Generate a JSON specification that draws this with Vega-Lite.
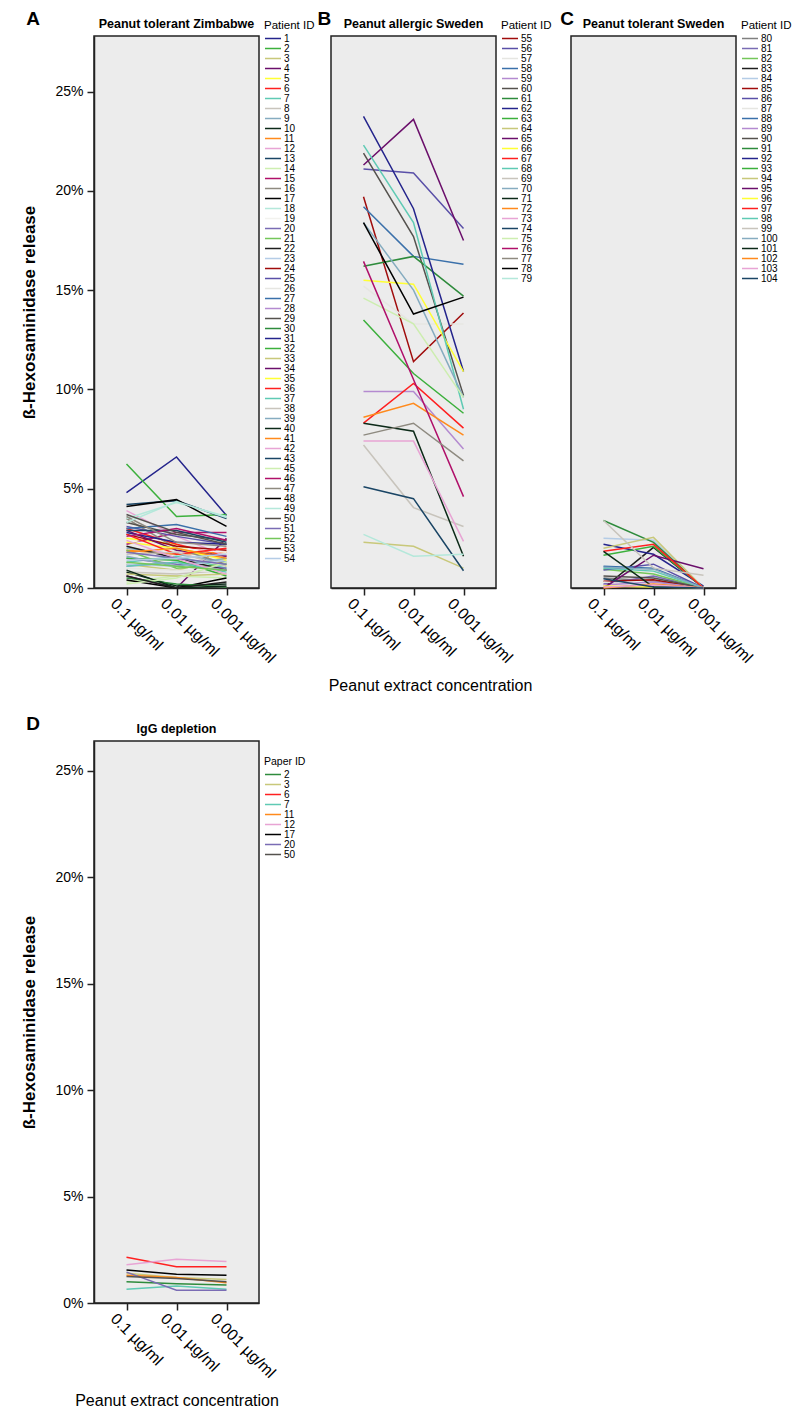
{
  "$schema": "https://vega.github.io/schema/vega-lite/v6.json",
  "background": "white",
  "padding": {"left": 20, "top": 9, "right": 0, "bottom": 0},
  "config": {
    "font": "Liberation Sans",
    "view": {"fill": "#ececec", "stroke": "#222222", "strokeWidth": 1.5},
    "axis": {"labelFontSize": 14, "labelColor": "#000", "tickColor": "#222", "domainColor": "#222", "domainWidth": 1.5, "tickWidth": 1.5, "tickSize": 7, "grid": false, "titleFontSize": 17, "titleColor": "#000", "labelFont": "Liberation Sans", "titleFont": "Liberation Sans"},
    "legend": {"titleFontSize": 11.5, "titleFontWeight": "normal", "titleColor": "#000", "labelColor": "#000", "labelFontSize": 10, "symbolType": "stroke", "symbolSize": 256, "symbolStrokeWidth": 1.5, "rowPadding": 0, "clipHeight": 10, "symbolLimit": 100, "labelOffset": 2, "titlePadding": 2},
    "line": {"strokeWidth": 1.5},
    "title": {"color": "#000", "font": "Liberation Sans"}
  },
  "datasets": {
    "pts": [
      {"p":"A","id":"1","c":"0.1 µg/ml","v":4.8},{"p":"A","id":"1","c":"0.01 µg/ml","v":6.6},{"p":"A","id":"1","c":"0.001 µg/ml","v":3.65},
      {"p":"A","id":"2","c":"0.1 µg/ml","v":6.25},{"p":"A","id":"2","c":"0.01 µg/ml","v":3.6},{"p":"A","id":"2","c":"0.001 µg/ml","v":3.7},
      {"p":"A","id":"3","c":"0.1 µg/ml","v":1.2},{"p":"A","id":"3","c":"0.01 µg/ml","v":0.9},{"p":"A","id":"3","c":"0.001 µg/ml","v":1.5},
      {"p":"A","id":"4","c":"0.1 µg/ml","v":0.6},{"p":"A","id":"4","c":"0.01 µg/ml","v":0.0},{"p":"A","id":"4","c":"0.001 µg/ml","v":2.5},
      {"p":"A","id":"5","c":"0.1 µg/ml","v":2.5},{"p":"A","id":"5","c":"0.01 µg/ml","v":2.2},{"p":"A","id":"5","c":"0.001 µg/ml","v":1.1},
      {"p":"A","id":"6","c":"0.1 µg/ml","v":3.0},{"p":"A","id":"6","c":"0.01 µg/ml","v":2.2},{"p":"A","id":"6","c":"0.001 µg/ml","v":1.6},
      {"p":"A","id":"7","c":"0.1 µg/ml","v":1.3},{"p":"A","id":"7","c":"0.01 µg/ml","v":1.6},{"p":"A","id":"7","c":"0.001 µg/ml","v":1.0},
      {"p":"A","id":"8","c":"0.1 µg/ml","v":0.8},{"p":"A","id":"8","c":"0.01 µg/ml","v":0.7},{"p":"A","id":"8","c":"0.001 µg/ml","v":0.9},
      {"p":"A","id":"9","c":"0.1 µg/ml","v":2.0},{"p":"A","id":"9","c":"0.01 µg/ml","v":1.7},{"p":"A","id":"9","c":"0.001 µg/ml","v":1.3},
      {"p":"A","id":"10","c":"0.1 µg/ml","v":0.8},{"p":"A","id":"10","c":"0.01 µg/ml","v":0.1},{"p":"A","id":"10","c":"0.001 µg/ml","v":0.2},
      {"p":"A","id":"11","c":"0.1 µg/ml","v":1.9},{"p":"A","id":"11","c":"0.01 µg/ml","v":1.7},{"p":"A","id":"11","c":"0.001 µg/ml","v":1.8},
      {"p":"A","id":"12","c":"0.1 µg/ml","v":3.9},{"p":"A","id":"12","c":"0.01 µg/ml","v":2.6},{"p":"A","id":"12","c":"0.001 µg/ml","v":1.6},
      {"p":"A","id":"13","c":"0.1 µg/ml","v":4.2},{"p":"A","id":"13","c":"0.01 µg/ml","v":4.4},{"p":"A","id":"13","c":"0.001 µg/ml","v":3.5},
      {"p":"A","id":"14","c":"0.1 µg/ml","v":0.3},{"p":"A","id":"14","c":"0.01 µg/ml","v":0.6},{"p":"A","id":"14","c":"0.001 µg/ml","v":0.5},
      {"p":"A","id":"15","c":"0.1 µg/ml","v":2.2},{"p":"A","id":"15","c":"0.01 µg/ml","v":2.8},{"p":"A","id":"15","c":"0.001 µg/ml","v":2.8},
      {"p":"A","id":"16","c":"0.1 µg/ml","v":3.5},{"p":"A","id":"16","c":"0.01 µg/ml","v":2.0},{"p":"A","id":"16","c":"0.001 µg/ml","v":1.2},
      {"p":"A","id":"17","c":"0.1 µg/ml","v":0.4},{"p":"A","id":"17","c":"0.01 µg/ml","v":0.0},{"p":"A","id":"17","c":"0.001 µg/ml","v":0.5},
      {"p":"A","id":"18","c":"0.1 µg/ml","v":3.5},{"p":"A","id":"18","c":"0.01 µg/ml","v":4.3},{"p":"A","id":"18","c":"0.001 µg/ml","v":3.6},
      {"p":"A","id":"19","c":"0.1 µg/ml","v":2.4},{"p":"A","id":"19","c":"0.01 µg/ml","v":2.0},{"p":"A","id":"19","c":"0.001 µg/ml","v":1.8},
      {"p":"A","id":"20","c":"0.1 µg/ml","v":1.5},{"p":"A","id":"20","c":"0.01 µg/ml","v":1.2},{"p":"A","id":"20","c":"0.001 µg/ml","v":1.0},
      {"p":"A","id":"21","c":"0.1 µg/ml","v":1.9},{"p":"A","id":"21","c":"0.01 µg/ml","v":1.0},{"p":"A","id":"21","c":"0.001 µg/ml","v":1.2},
      {"p":"A","id":"22","c":"0.1 µg/ml","v":2.1},{"p":"A","id":"22","c":"0.01 µg/ml","v":1.5},{"p":"A","id":"22","c":"0.001 µg/ml","v":0.9},
      {"p":"A","id":"23","c":"0.1 µg/ml","v":1.2},{"p":"A","id":"23","c":"0.01 µg/ml","v":1.1},{"p":"A","id":"23","c":"0.001 µg/ml","v":1.4},
      {"p":"A","id":"24","c":"0.1 µg/ml","v":2.7},{"p":"A","id":"24","c":"0.01 µg/ml","v":2.1},{"p":"A","id":"24","c":"0.001 µg/ml","v":1.9},
      {"p":"A","id":"25","c":"0.1 µg/ml","v":3.1},{"p":"A","id":"25","c":"0.01 µg/ml","v":2.6},{"p":"A","id":"25","c":"0.001 µg/ml","v":2.2},
      {"p":"A","id":"26","c":"0.1 µg/ml","v":1.0},{"p":"A","id":"26","c":"0.01 µg/ml","v":0.9},{"p":"A","id":"26","c":"0.001 µg/ml","v":0.8},
      {"p":"A","id":"27","c":"0.1 µg/ml","v":3.0},{"p":"A","id":"27","c":"0.01 µg/ml","v":3.2},{"p":"A","id":"27","c":"0.001 µg/ml","v":2.6},
      {"p":"A","id":"28","c":"0.1 µg/ml","v":1.1},{"p":"A","id":"28","c":"0.01 µg/ml","v":1.3},{"p":"A","id":"28","c":"0.001 µg/ml","v":0.9},
      {"p":"A","id":"29","c":"0.1 µg/ml","v":3.3},{"p":"A","id":"29","c":"0.01 µg/ml","v":2.7},{"p":"A","id":"29","c":"0.001 µg/ml","v":2.4},
      {"p":"A","id":"30","c":"0.1 µg/ml","v":0.5},{"p":"A","id":"30","c":"0.01 µg/ml","v":0.2},{"p":"A","id":"30","c":"0.001 µg/ml","v":0.05},
      {"p":"A","id":"31","c":"0.1 µg/ml","v":2.8},{"p":"A","id":"31","c":"0.01 µg/ml","v":2.3},{"p":"A","id":"31","c":"0.001 µg/ml","v":2.2},
      {"p":"A","id":"32","c":"0.1 µg/ml","v":1.5},{"p":"A","id":"32","c":"0.01 µg/ml","v":1.4},{"p":"A","id":"32","c":"0.001 µg/ml","v":0.6},
      {"p":"A","id":"33","c":"0.1 µg/ml","v":0.7},{"p":"A","id":"33","c":"0.01 µg/ml","v":0.6},{"p":"A","id":"33","c":"0.001 µg/ml","v":0.7},
      {"p":"A","id":"34","c":"0.1 µg/ml","v":2.9},{"p":"A","id":"34","c":"0.01 µg/ml","v":1.9},{"p":"A","id":"34","c":"0.001 µg/ml","v":1.6},
      {"p":"A","id":"35","c":"0.1 µg/ml","v":2.3},{"p":"A","id":"35","c":"0.01 µg/ml","v":2.0},{"p":"A","id":"35","c":"0.001 µg/ml","v":1.4},
      {"p":"A","id":"36","c":"0.1 µg/ml","v":2.7},{"p":"A","id":"36","c":"0.01 µg/ml","v":1.7},{"p":"A","id":"36","c":"0.001 µg/ml","v":2.0},
      {"p":"A","id":"37","c":"0.1 µg/ml","v":1.1},{"p":"A","id":"37","c":"0.01 µg/ml","v":1.3},{"p":"A","id":"37","c":"0.001 µg/ml","v":0.8},
      {"p":"A","id":"38","c":"0.1 µg/ml","v":1.7},{"p":"A","id":"38","c":"0.01 µg/ml","v":1.8},{"p":"A","id":"38","c":"0.001 µg/ml","v":1.1},
      {"p":"A","id":"39","c":"0.1 µg/ml","v":1.6},{"p":"A","id":"39","c":"0.01 µg/ml","v":1.1},{"p":"A","id":"39","c":"0.001 µg/ml","v":1.5},
      {"p":"A","id":"40","c":"0.1 µg/ml","v":0.9},{"p":"A","id":"40","c":"0.01 µg/ml","v":0.0},{"p":"A","id":"40","c":"0.001 µg/ml","v":0.1},
      {"p":"A","id":"41","c":"0.1 µg/ml","v":1.8},{"p":"A","id":"41","c":"0.01 µg/ml","v":2.0},{"p":"A","id":"41","c":"0.001 µg/ml","v":1.5},
      {"p":"A","id":"42","c":"0.1 µg/ml","v":2.4},{"p":"A","id":"42","c":"0.01 µg/ml","v":1.5},{"p":"A","id":"42","c":"0.001 µg/ml","v":0.7},
      {"p":"A","id":"43","c":"0.1 µg/ml","v":2.9},{"p":"A","id":"43","c":"0.01 µg/ml","v":2.9},{"p":"A","id":"43","c":"0.001 µg/ml","v":2.3},
      {"p":"A","id":"45","c":"0.1 µg/ml","v":0.2},{"p":"A","id":"45","c":"0.01 µg/ml","v":0.5},{"p":"A","id":"45","c":"0.001 µg/ml","v":1.3},
      {"p":"A","id":"46","c":"0.1 µg/ml","v":2.6},{"p":"A","id":"46","c":"0.01 µg/ml","v":3.0},{"p":"A","id":"46","c":"0.001 µg/ml","v":2.4},
      {"p":"A","id":"47","c":"0.1 µg/ml","v":3.6},{"p":"A","id":"47","c":"0.01 µg/ml","v":2.3},{"p":"A","id":"47","c":"0.001 µg/ml","v":2.1},
      {"p":"A","id":"48","c":"0.1 µg/ml","v":4.1},{"p":"A","id":"48","c":"0.01 µg/ml","v":4.45},{"p":"A","id":"48","c":"0.001 µg/ml","v":3.1},
      {"p":"A","id":"49","c":"0.1 µg/ml","v":3.3},{"p":"A","id":"49","c":"0.01 µg/ml","v":4.35},{"p":"A","id":"49","c":"0.001 µg/ml","v":3.55},
      {"p":"A","id":"50","c":"0.1 µg/ml","v":3.7},{"p":"A","id":"50","c":"0.01 µg/ml","v":2.8},{"p":"A","id":"50","c":"0.001 µg/ml","v":2.2},
      {"p":"A","id":"51","c":"0.1 µg/ml","v":1.8},{"p":"A","id":"51","c":"0.01 µg/ml","v":1.5},{"p":"A","id":"51","c":"0.001 µg/ml","v":1.2},
      {"p":"A","id":"52","c":"0.1 µg/ml","v":1.3},{"p":"A","id":"52","c":"0.01 µg/ml","v":1.1},{"p":"A","id":"52","c":"0.001 µg/ml","v":0.9},
      {"p":"A","id":"53","c":"0.1 µg/ml","v":0.6},{"p":"A","id":"53","c":"0.01 µg/ml","v":0.0},{"p":"A","id":"53","c":"0.001 µg/ml","v":0.3},
      {"p":"A","id":"54","c":"0.1 µg/ml","v":1.4},{"p":"A","id":"54","c":"0.01 µg/ml","v":1.5},{"p":"A","id":"54","c":"0.001 µg/ml","v":1.7},

      {"p":"B","id":"55","c":"0.1 µg/ml","v":19.7},{"p":"B","id":"55","c":"0.01 µg/ml","v":11.4},{"p":"B","id":"55","c":"0.001 µg/ml","v":13.85},
      {"p":"B","id":"56","c":"0.1 µg/ml","v":21.1},{"p":"B","id":"56","c":"0.01 µg/ml","v":20.9},{"p":"B","id":"56","c":"0.001 µg/ml","v":18.1},
      {"p":"B","id":"57","c":"0.1 µg/ml","v":15.2},{"p":"B","id":"57","c":"0.01 µg/ml","v":13.3},{"p":"B","id":"57","c":"0.001 µg/ml","v":13.3},
      {"p":"B","id":"58","c":"0.1 µg/ml","v":19.2},{"p":"B","id":"58","c":"0.01 µg/ml","v":16.7},{"p":"B","id":"58","c":"0.001 µg/ml","v":16.3},
      {"p":"B","id":"59","c":"0.1 µg/ml","v":9.9},{"p":"B","id":"59","c":"0.01 µg/ml","v":9.9},{"p":"B","id":"59","c":"0.001 µg/ml","v":7.0},
      {"p":"B","id":"60","c":"0.1 µg/ml","v":21.9},{"p":"B","id":"60","c":"0.01 µg/ml","v":17.7},{"p":"B","id":"60","c":"0.001 µg/ml","v":9.7},
      {"p":"B","id":"61","c":"0.1 µg/ml","v":16.2},{"p":"B","id":"61","c":"0.01 µg/ml","v":16.7},{"p":"B","id":"61","c":"0.001 µg/ml","v":14.7},
      {"p":"B","id":"62","c":"0.1 µg/ml","v":23.75},{"p":"B","id":"62","c":"0.01 µg/ml","v":19.1},{"p":"B","id":"62","c":"0.001 µg/ml","v":10.9},
      {"p":"B","id":"63","c":"0.1 µg/ml","v":13.5},{"p":"B","id":"63","c":"0.01 µg/ml","v":10.8},{"p":"B","id":"63","c":"0.001 µg/ml","v":8.8},
      {"p":"B","id":"64","c":"0.1 µg/ml","v":2.3},{"p":"B","id":"64","c":"0.01 µg/ml","v":2.1},{"p":"B","id":"64","c":"0.001 µg/ml","v":1.0},
      {"p":"B","id":"65","c":"0.1 µg/ml","v":21.3},{"p":"B","id":"65","c":"0.01 µg/ml","v":23.6},{"p":"B","id":"65","c":"0.001 µg/ml","v":17.5},
      {"p":"B","id":"66","c":"0.1 µg/ml","v":15.5},{"p":"B","id":"66","c":"0.01 µg/ml","v":15.3},{"p":"B","id":"66","c":"0.001 µg/ml","v":10.9},
      {"p":"B","id":"67","c":"0.1 µg/ml","v":8.3},{"p":"B","id":"67","c":"0.01 µg/ml","v":10.3},{"p":"B","id":"67","c":"0.001 µg/ml","v":8.05},
      {"p":"B","id":"68","c":"0.1 µg/ml","v":22.3},{"p":"B","id":"68","c":"0.01 µg/ml","v":18.4},{"p":"B","id":"68","c":"0.001 µg/ml","v":9.0},
      {"p":"B","id":"69","c":"0.1 µg/ml","v":7.2},{"p":"B","id":"69","c":"0.01 µg/ml","v":4.05},{"p":"B","id":"69","c":"0.001 µg/ml","v":3.1},
      {"p":"B","id":"70","c":"0.1 µg/ml","v":18.4},{"p":"B","id":"70","c":"0.01 µg/ml","v":15.0},{"p":"B","id":"70","c":"0.001 µg/ml","v":9.6},
      {"p":"B","id":"71","c":"0.1 µg/ml","v":8.3},{"p":"B","id":"71","c":"0.01 µg/ml","v":7.9},{"p":"B","id":"71","c":"0.001 µg/ml","v":1.6},
      {"p":"B","id":"72","c":"0.1 µg/ml","v":8.6},{"p":"B","id":"72","c":"0.01 µg/ml","v":9.3},{"p":"B","id":"72","c":"0.001 µg/ml","v":7.7},
      {"p":"B","id":"73","c":"0.1 µg/ml","v":7.4},{"p":"B","id":"73","c":"0.01 µg/ml","v":7.4},{"p":"B","id":"73","c":"0.001 µg/ml","v":2.35},
      {"p":"B","id":"74","c":"0.1 µg/ml","v":5.1},{"p":"B","id":"74","c":"0.01 µg/ml","v":4.5},{"p":"B","id":"74","c":"0.001 µg/ml","v":0.87},
      {"p":"B","id":"75","c":"0.1 µg/ml","v":14.6},{"p":"B","id":"75","c":"0.01 µg/ml","v":13.3},{"p":"B","id":"75","c":"0.001 µg/ml","v":9.6},
      {"p":"B","id":"76","c":"0.1 µg/ml","v":16.45},{"p":"B","id":"76","c":"0.01 µg/ml","v":10.5},{"p":"B","id":"76","c":"0.001 µg/ml","v":4.6},
      {"p":"B","id":"77","c":"0.1 µg/ml","v":7.7},{"p":"B","id":"77","c":"0.01 µg/ml","v":8.3},{"p":"B","id":"77","c":"0.001 µg/ml","v":6.4},
      {"p":"B","id":"78","c":"0.1 µg/ml","v":18.4},{"p":"B","id":"78","c":"0.01 µg/ml","v":13.8},{"p":"B","id":"78","c":"0.001 µg/ml","v":14.65},
      {"p":"B","id":"79","c":"0.1 µg/ml","v":2.7},{"p":"B","id":"79","c":"0.01 µg/ml","v":1.6},{"p":"B","id":"79","c":"0.001 µg/ml","v":1.7},

      {"p":"C","id":"80","c":"0.1 µg/ml","v":0.5},{"p":"C","id":"80","c":"0.01 µg/ml","v":0.35},{"p":"C","id":"80","c":"0.001 µg/ml","v":0},
      {"p":"C","id":"81","c":"0.1 µg/ml","v":0.2},{"p":"C","id":"81","c":"0.01 µg/ml","v":0.6},{"p":"C","id":"81","c":"0.001 µg/ml","v":0},
      {"p":"C","id":"82","c":"0.1 µg/ml","v":0.95},{"p":"C","id":"82","c":"0.01 µg/ml","v":0.7},{"p":"C","id":"82","c":"0.001 µg/ml","v":0},
      {"p":"C","id":"83","c":"0.1 µg/ml","v":0.0},{"p":"C","id":"83","c":"0.01 µg/ml","v":2.05},{"p":"C","id":"83","c":"0.001 µg/ml","v":0},
      {"p":"C","id":"84","c":"0.1 µg/ml","v":2.5},{"p":"C","id":"84","c":"0.01 µg/ml","v":2.4},{"p":"C","id":"84","c":"0.001 µg/ml","v":0},
      {"p":"C","id":"85","c":"0.1 µg/ml","v":0.34},{"p":"C","id":"85","c":"0.01 µg/ml","v":0.42},{"p":"C","id":"85","c":"0.001 µg/ml","v":0},
      {"p":"C","id":"86","c":"0.1 µg/ml","v":0.9},{"p":"C","id":"86","c":"0.01 µg/ml","v":1.2},{"p":"C","id":"86","c":"0.001 µg/ml","v":0},
      {"p":"C","id":"87","c":"0.1 µg/ml","v":0.3},{"p":"C","id":"87","c":"0.01 µg/ml","v":0.1},{"p":"C","id":"87","c":"0.001 µg/ml","v":0},
      {"p":"C","id":"88","c":"0.1 µg/ml","v":1.1},{"p":"C","id":"88","c":"0.01 µg/ml","v":1.0},{"p":"C","id":"88","c":"0.001 µg/ml","v":0},
      {"p":"C","id":"89","c":"0.1 µg/ml","v":0.15},{"p":"C","id":"89","c":"0.01 µg/ml","v":0.3},{"p":"C","id":"89","c":"0.001 µg/ml","v":0},
      {"p":"C","id":"90","c":"0.1 µg/ml","v":0.6},{"p":"C","id":"90","c":"0.01 µg/ml","v":0.5},{"p":"C","id":"90","c":"0.001 µg/ml","v":0},
      {"p":"C","id":"91","c":"0.1 µg/ml","v":3.4},{"p":"C","id":"91","c":"0.01 µg/ml","v":2.3},{"p":"C","id":"91","c":"0.001 µg/ml","v":0},
      {"p":"C","id":"92","c":"0.1 µg/ml","v":2.2},{"p":"C","id":"92","c":"0.01 µg/ml","v":1.7},{"p":"C","id":"92","c":"0.001 µg/ml","v":0.1},
      {"p":"C","id":"93","c":"0.1 µg/ml","v":1.65},{"p":"C","id":"93","c":"0.01 µg/ml","v":2.1},{"p":"C","id":"93","c":"0.001 µg/ml","v":0},
      {"p":"C","id":"94","c":"0.1 µg/ml","v":2.0},{"p":"C","id":"94","c":"0.01 µg/ml","v":2.55},{"p":"C","id":"94","c":"0.001 µg/ml","v":0},
      {"p":"C","id":"95","c":"0.1 µg/ml","v":0.0},{"p":"C","id":"95","c":"0.01 µg/ml","v":1.65},{"p":"C","id":"95","c":"0.001 µg/ml","v":0.97},
      {"p":"C","id":"96","c":"0.1 µg/ml","v":0.1},{"p":"C","id":"96","c":"0.01 µg/ml","v":0.05},{"p":"C","id":"96","c":"0.001 µg/ml","v":0},
      {"p":"C","id":"97","c":"0.1 µg/ml","v":1.85},{"p":"C","id":"97","c":"0.01 µg/ml","v":2.2},{"p":"C","id":"97","c":"0.001 µg/ml","v":0},
      {"p":"C","id":"98","c":"0.1 µg/ml","v":1.0},{"p":"C","id":"98","c":"0.01 µg/ml","v":0.85},{"p":"C","id":"98","c":"0.001 µg/ml","v":0},
      {"p":"C","id":"99","c":"0.1 µg/ml","v":3.4},{"p":"C","id":"99","c":"0.01 µg/ml","v":1.0},{"p":"C","id":"99","c":"0.001 µg/ml","v":0.64},
      {"p":"C","id":"100","c":"0.1 µg/ml","v":1.05},{"p":"C","id":"100","c":"0.01 µg/ml","v":0.95},{"p":"C","id":"100","c":"0.001 µg/ml","v":0},
      {"p":"C","id":"101","c":"0.1 µg/ml","v":1.85},{"p":"C","id":"101","c":"0.01 µg/ml","v":0.05},{"p":"C","id":"101","c":"0.001 µg/ml","v":0},
      {"p":"C","id":"102","c":"0.1 µg/ml","v":0.0},{"p":"C","id":"102","c":"0.01 µg/ml","v":0.2},{"p":"C","id":"102","c":"0.001 µg/ml","v":0},
      {"p":"C","id":"103","c":"0.1 µg/ml","v":0.05},{"p":"C","id":"103","c":"0.01 µg/ml","v":0.15},{"p":"C","id":"103","c":"0.001 µg/ml","v":0},
      {"p":"C","id":"104","c":"0.1 µg/ml","v":0.47},{"p":"C","id":"104","c":"0.01 µg/ml","v":0.05},{"p":"C","id":"104","c":"0.001 µg/ml","v":0},

      {"p":"D","id":"2","c":"0.1 µg/ml","v":1.0},{"p":"D","id":"2","c":"0.01 µg/ml","v":0.9},{"p":"D","id":"2","c":"0.001 µg/ml","v":0.85},
      {"p":"D","id":"3","c":"0.1 µg/ml","v":1.4},{"p":"D","id":"3","c":"0.01 µg/ml","v":1.2},{"p":"D","id":"3","c":"0.001 µg/ml","v":1.1},
      {"p":"D","id":"6","c":"0.1 µg/ml","v":2.15},{"p":"D","id":"6","c":"0.01 µg/ml","v":1.7},{"p":"D","id":"6","c":"0.001 µg/ml","v":1.7},
      {"p":"D","id":"7","c":"0.1 µg/ml","v":0.65},{"p":"D","id":"7","c":"0.01 µg/ml","v":0.8},{"p":"D","id":"7","c":"0.001 µg/ml","v":0.65},
      {"p":"D","id":"11","c":"0.1 µg/ml","v":1.3},{"p":"D","id":"11","c":"0.01 µg/ml","v":1.2},{"p":"D","id":"11","c":"0.001 µg/ml","v":0.95},
      {"p":"D","id":"12","c":"0.1 µg/ml","v":1.8},{"p":"D","id":"12","c":"0.01 µg/ml","v":2.05},{"p":"D","id":"12","c":"0.001 µg/ml","v":1.95},
      {"p":"D","id":"17","c":"0.1 µg/ml","v":1.55},{"p":"D","id":"17","c":"0.01 µg/ml","v":1.35},{"p":"D","id":"17","c":"0.001 µg/ml","v":1.3},
      {"p":"D","id":"20","c":"0.1 µg/ml","v":1.45},{"p":"D","id":"20","c":"0.01 µg/ml","v":0.6},{"p":"D","id":"20","c":"0.001 µg/ml","v":0.6},
      {"p":"D","id":"50","c":"0.1 µg/ml","v":1.25},{"p":"D","id":"50","c":"0.01 µg/ml","v":1.15},{"p":"D","id":"50","c":"0.001 µg/ml","v":1.0}
    ]
  },
  "vconcat": [
    {
      "hconcat": [
        {
          "title": {"text": "A", "anchor": "start", "frame": "bounds", "fontSize": 19, "fontWeight": "bold", "dx": 6, "dy": 12, "offset": 0},
          "vconcat": [
            {
              "data": {"name": "pts"},
              "transform": [{"filter": "datum.p === 'A'"}],
              "title": {"text": "Peanut tolerant Zimbabwe", "fontSize": 12.5, "fontWeight": "bold", "offset": 6},
              "width": 165, "height": 552,
              "mark": {"type": "line", "strokeWidth": 1.5},
              "encoding": {
                "x": {"field": "c", "type": "ordinal", "sort": ["0.1 µg/ml", "0.01 µg/ml", "0.001 µg/ml"], "scale": {"type": "point", "padding": 0.65}, "axis": {"title": null, "labelAngle": 45, "labelAlign": "left", "labelBaseline": "top", "labelPadding": 0, "labelOffset": -8, "labelFontSize": 16}},
                "y": {"field": "v", "type": "quantitative", "scale": {"domain": [0, 27.8], "nice": false}, "axis": {"values": [0, 5, 10, 15, 20, 25], "labelExpr": "datum.value + '%'", "labelPadding": 4, "title": "ß-Hexosaminidase release", "titleFontWeight": "bold", "titlePadding": 16}},
                "color": {"field": "id", "type": "nominal",
                  "scale": {"domain": ["1","2","3","4","5","6","7","8","9","10","11","12","13","14","15","16","17","18","19","20","21","22","23","24","25","26","27","28","29","30","31","32","33","34","35","36","37","38","39","40","41","42","43","45","46","47","48","49","50","51","52","53","54"],
                    "range": ["#24248c","#3cb03c","#c8c87a","#6b0f6b","#ffff33","#ff2020","#5fcab4","#c8c4bc","#86acc0","#0c2a18","#ff8a1c","#e8a4d4","#1a4565","#cdeeb0","#b0106a","#8e8a80","#000000","#b4e8da","#f2f2ee","#7a6cb4","#74c65a","#1e1e1e","#b4cce6","#a00c0c","#5a50a8","#e6e6e2","#3a70aa","#b48ad0","#55524e","#2e8b3c","#24248c","#3cb03c","#c8c87a","#6b0f6b","#ffff33","#ff2020","#5fcab4","#c8c4bc","#86acc0","#0c2a18","#ff8a1c","#e8a4d4","#1a4565","#cdeeb0","#b0106a","#8e8a80","#000000","#b4e8da","#55524e","#7a6cb4","#74c65a","#1e1e1e","#b4cce6"]},
                  "legend": {"title": "Patient ID", "orient": "none", "legendX": 170, "legendY": -16}}
              }
            }
          ]
        },
        {
          "hconcat": [
            {
              "title": {"text": "B", "anchor": "start", "frame": "bounds", "fontSize": 19, "fontWeight": "bold", "dx": -10, "dy": 12, "offset": 0},
              "vconcat": [
                {
                  "data": {"name": "pts"},
                  "transform": [{"filter": "datum.p === 'B'"}],
                  "title": {"text": "Peanut allergic Sweden", "fontSize": 12.5, "fontWeight": "bold", "offset": 6},
                  "width": 165, "height": 552,
                  "mark": {"type": "line", "strokeWidth": 1.5},
                  "encoding": {
                    "x": {"field": "c", "type": "ordinal", "sort": ["0.1 µg/ml", "0.01 µg/ml", "0.001 µg/ml"], "scale": {"type": "point", "padding": 0.65}, "axis": {"title": "Peanut extract concentration", "titleFontWeight": "normal", "titleFontSize": 16, "titlePadding": 12, "titleX": 99, "labelAngle": 45, "labelAlign": "left", "labelBaseline": "top", "labelPadding": 0, "labelOffset": -8, "labelFontSize": 16}},
                    "y": {"field": "v", "type": "quantitative", "scale": {"domain": [0, 27.8], "nice": false}, "axis": null},
                    "color": {"field": "id", "type": "nominal",
                      "scale": {"domain": ["55","56","57","58","59","60","61","62","63","64","65","66","67","68","69","70","71","72","73","74","75","76","77","78","79"],
                        "range": ["#a00c0c","#5a50a8","#e6e6e2","#3a70aa","#b48ad0","#55524e","#2e8b3c","#24248c","#3cb03c","#c8c87a","#6b0f6b","#ffff33","#ff2020","#5fcab4","#c8c4bc","#86acc0","#0c2a18","#ff8a1c","#e8a4d4","#1a4565","#cdeeb0","#b0106a","#8e8a80","#000000","#b4e8da"]},
                      "legend": {"title": "Patient ID", "orient": "none", "legendX": 170, "legendY": -16}}
                  }
                }
              ]
            },
            {
              "title": {"text": "C", "anchor": "start", "frame": "bounds", "fontSize": 19, "fontWeight": "bold", "dx": -10, "dy": 12, "offset": 0},
              "vconcat": [
                {
                  "data": {"name": "pts"},
                  "transform": [{"filter": "datum.p === 'C'"}],
                  "title": {"text": "Peanut tolerant Sweden", "fontSize": 12.5, "fontWeight": "bold", "offset": 6},
                  "width": 165, "height": 552,
                  "mark": {"type": "line", "strokeWidth": 1.5},
                  "encoding": {
                    "x": {"field": "c", "type": "ordinal", "sort": ["0.1 µg/ml", "0.01 µg/ml", "0.001 µg/ml"], "scale": {"type": "point", "padding": 0.65}, "axis": {"title": null, "labelAngle": 45, "labelAlign": "left", "labelBaseline": "top", "labelPadding": 0, "labelOffset": -8, "labelFontSize": 16}},
                    "y": {"field": "v", "type": "quantitative", "scale": {"domain": [0, 27.8], "nice": false}, "axis": null},
                    "color": {"field": "id", "type": "nominal",
                      "scale": {"domain": ["80","81","82","83","84","85","86","87","88","89","90","91","92","93","94","95","96","97","98","99","100","101","102","103","104"],
                        "range": ["#808080","#7a6cb4","#74c65a","#1e1e1e","#b4cce6","#a00c0c","#5a50a8","#e6e6e2","#3a70aa","#b48ad0","#55524e","#2e8b3c","#24248c","#3cb03c","#c8c87a","#6b0f6b","#ffff33","#ff2020","#5fcab4","#c8c4bc","#86acc0","#0c2a18","#ff8a1c","#e8a4d4","#1a4565"]},
                      "legend": {"title": "Patient ID", "orient": "none", "legendX": 170, "legendY": -16}}
                  }
                }
              ]
            }
          ],
          "spacing": 8,
          "resolve": {"scale": {"color": "independent"}, "legend": {"color": "independent"}}
        }
      ],
      "spacing": 2,
      "resolve": {"scale": {"color": "independent"}, "legend": {"color": "independent"}}
    },
    {
      "title": {"text": "D", "anchor": "start", "frame": "bounds", "fontSize": 19, "fontWeight": "bold", "dx": 6, "dy": 12, "offset": 0},
      "vconcat": [
        {
          "data": {"name": "pts"},
          "transform": [{"filter": "datum.p === 'D'"}],
          "title": {"text": "IgG depletion", "fontSize": 12.5, "fontWeight": "bold", "offset": 6},
          "width": 165, "height": 562,
          "mark": {"type": "line", "strokeWidth": 1.5},
          "encoding": {
            "x": {"field": "c", "type": "ordinal", "sort": ["0.1 µg/ml", "0.01 µg/ml", "0.001 µg/ml"], "scale": {"type": "point", "padding": 0.65}, "axis": {"title": "Peanut extract concentration", "titleFontWeight": "normal", "titleFontSize": 16, "titlePadding": 12, "labelAngle": 45, "labelAlign": "left", "labelBaseline": "top", "labelPadding": 0, "labelOffset": -8, "labelFontSize": 16}},
            "y": {"field": "v", "type": "quantitative", "scale": {"domain": [0, 26.4], "nice": false}, "axis": {"values": [0, 5, 10, 15, 20, 25], "labelExpr": "datum.value + '%'", "labelPadding": 4, "title": "ß-Hexosaminidase release", "titleFontWeight": "bold", "titlePadding": 16}},
            "color": {"field": "id", "type": "nominal",
              "scale": {"domain": ["2","3","6","7","11","12","17","20","50"],
                "range": ["#2e8b3c","#c8c87a","#ff2020","#5fcab4","#ff8a1c","#e8a4d4","#000000","#7a6cb4","#55524e"]},
              "legend": {"title": "Paper ID", "orient": "none", "legendX": 170, "legendY": 16, "titleFontSize": 10.5}}
          }
        }
      ]
    }
  ],
  "spacing": 19,
  "resolve": {"scale": {"color": "independent"}, "legend": {"color": "independent"}}
}
